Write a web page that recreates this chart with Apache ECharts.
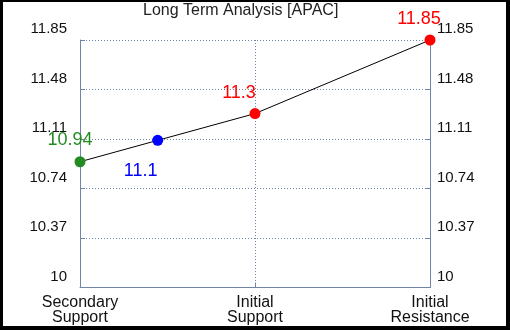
<!DOCTYPE html>
<html>
<head>
<meta charset="utf-8">
<script src="https://cdn.jsdelivr.net/npm/echarts@6/dist/echarts.min.js"></script>
<style>
html,body{margin:0;padding:0;background:#000;width:510px;height:330px;overflow:hidden;}
#c{position:absolute;left:3px;top:2px;width:503px;height:324px;background:#fff;}
</style>
</head>
<body>
<div id="c"></div>
<script>
// Data
var categories = ["Secondary\nSupport", "Initial\nSupport", "Initial\nResistance"];
var pointX = [0, 0.444, 1, 2];
var pointValues = [10.94, 11.1, 11.3, 11.85];
var pointColors = ["#228B22", "#0000FF", "#FF0000", "#FF0000"];
var yTickValues = [10, 10.37, 10.74, 11.11, 11.48, 11.85];
var labelOffsets = [[-10, -2], [-17, 11], [-16, -1], [-11, -1]];
var labelPositions = ["top", "bottom", "top", "top"];

var axisColor = "#6f84a8";
var chart = echarts.init(document.getElementById('c'));

var data = pointValues.map(function (v, i) {
  return {
    value: [pointX[i], v],
    itemStyle: { color: pointColors[i] },
    label: {
      show: true,
      position: labelPositions[i],
      distance: 5,
      offset: labelOffsets[i],
      color: pointColors[i],
      fontSize: 18,
      fontFamily: 'Liberation Sans, Arial, sans-serif',
      formatter: String(v)
    }
  };
});

function yAxisDef(pos, margin) {
  return {
    type: 'value',
    position: pos,
    min: 10,
    max: 11.85,
    axisLine: { show: true, lineStyle: { color: axisColor, width: 1 } },
    axisTick: { show: true, inside: true, length: 5, lineStyle: { color: axisColor }, customValues: yTickValues },
    axisLabel: {
      customValues: yTickValues,
      showMinLabel: true,
      showMaxLabel: true,
      hideOverlap: false,
      margin: margin,
      color: '#111',
      fontSize: 15,
      lineHeight: 22,
      fontFamily: 'Liberation Sans, Arial, sans-serif',
      verticalAlign: 'middle',
      formatter: function (v) { return String(+v.toFixed(2)) + '\n '; }
    },
    splitLine: { show: pos === 'left', lineStyle: { color: axisColor, type: [1, 2], width: 1 } }
  };
}

chart.setOption({
  animation: false,
  title: {
    text: 'Long Term Analysis [APAC]',
    left: 135,
    top: -4,
    textStyle: { fontSize: 16, fontWeight: 'normal', color: '#222', fontFamily: 'Liberation Sans, Arial, sans-serif' }
  },
  grid: { left: 77, right: 76, top: 38, bottom: 36, containLabel: false },
  xAxis: {
    type: 'value',
    min: 0,
    max: 2,
    interval: 1,
    axisLine: { show: true, lineStyle: { color: axisColor, width: 1 } },
    axisTick: { show: true, inside: true, length: 5, lineStyle: { color: axisColor } },
    axisLabel: {
      margin: 8,
      color: '#111',
      fontSize: 16,
      lineHeight: 15,
      fontFamily: 'Liberation Sans, Arial, sans-serif',
      formatter: function (v) { return categories[Math.round(v)]; }
    },
    splitLine: { show: true, lineStyle: { color: axisColor, type: [1, 2], width: 1 } }
  },
  yAxis: [yAxisDef('left', 13), yAxisDef('right', 7)],
  series: [{
    type: 'line',
    data: data,
    symbol: 'circle',
    symbolSize: 11,
    lineStyle: { color: '#000', width: 1 },
    z: 3
  }]
});
</script>
</body>
</html>
